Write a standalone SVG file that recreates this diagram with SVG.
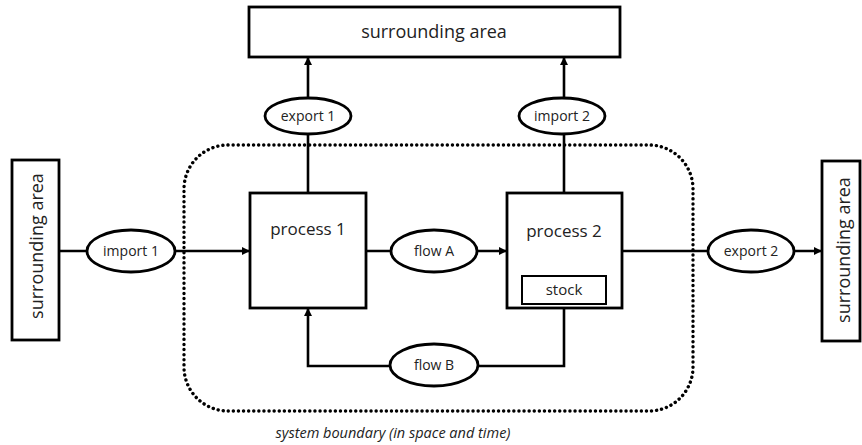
<svg xmlns="http://www.w3.org/2000/svg" width="862" height="445" viewBox="0 0 862 445">
  <defs>
    <marker id="arrow" viewBox="0 0 10 10" refX="10" refY="5" markerWidth="3.2" markerHeight="3.2" orient="auto" markerUnits="strokeWidth">
      <path d="M0,0 L10,5 L0,10 z" fill="#000"/>
    </marker>
    <style>
      .box { fill: #fff; stroke: #000; stroke-width: 2.8; }
      .oval { fill: #fff; stroke: #000; stroke-width: 2.8; }
      .link { fill: none; stroke: #000; stroke-width: 2.6; }
      .boundary { fill: none; stroke: #000; stroke-width: 3.4; stroke-dasharray: 0.1 5; stroke-linecap: round; }
      .lbl { font-family: "Open Sans", "Noto Sans", sans-serif; font-size: 14px; fill: #222; text-anchor: middle; dominant-baseline: central; }
      .big { font-size: 17px; }
      .area { font-size: 18px; }
      .cap { font-family: "Open Sans", "Noto Sans", sans-serif; font-size: 14.5px; font-style: italic; fill: #222; text-anchor: middle; }
    </style>
  </defs>
  <rect width="862" height="445" fill="#fff"/>

  <!-- system boundary -->
  <g id="boundary">
    <rect class="boundary" x="184" y="145" width="509" height="266" rx="44" ry="44"/>
    <text class="cap" x="393" y="438">system boundary (in space and time)</text>
  </g>

  <!-- connectors -->
  <g id="connectors">
    <path class="link" d="M59,251 L250,251" marker-end="url(#arrow)"/>
    <path class="link" d="M366,251 L507,251" marker-end="url(#arrow)"/>
    <path class="link" d="M622,251 L822,251" marker-end="url(#arrow)"/>
    <path class="link" d="M308,193 L308,57" marker-end="url(#arrow)"/>
    <path class="link" d="M564,193 L564,57" marker-end="url(#arrow)"/>
    <path class="link" d="M564,308 L564,366 L308,366 L308,308" marker-end="url(#arrow)"/>
  </g>

  <!-- surrounding areas -->
  <g id="area-top">
    <rect class="box" x="249" y="7" width="371" height="50"/>
    <text class="lbl area" x="434" y="31">surrounding area</text>
  </g>
  <g id="area-left">
    <rect class="box" x="12" y="160" width="47" height="180"/>
    <text class="lbl area" transform="translate(36,246) rotate(-90)">surrounding area</text>
  </g>
  <g id="area-right">
    <rect class="box" x="822" y="161" width="38" height="180"/>
    <text class="lbl area" transform="translate(843,250) rotate(-90)">surrounding area</text>
  </g>

  <!-- processes -->
  <g id="process1">
    <rect class="box" x="250" y="193" width="116" height="115"/>
    <text class="lbl big" x="308" y="228">process 1</text>
  </g>
  <g id="process2">
    <rect class="box" x="507" y="193" width="115" height="115"/>
    <text class="lbl big" x="564" y="230">process 2</text>
    <rect class="box" x="522" y="276" width="84" height="28" style="stroke-width:2"/>
    <text class="lbl" x="564" y="289" style="font-size:15px">stock</text>
  </g>

  <!-- flows -->
  <g id="import1">
    <ellipse class="oval" cx="131" cy="251" rx="44" ry="21"/>
    <text class="lbl" x="131" y="250">import 1</text>
  </g>
  <g id="export1">
    <ellipse class="oval" cx="308" cy="116" rx="43" ry="18"/>
    <text class="lbl" x="308" y="115">export 1</text>
  </g>
  <g id="import2">
    <ellipse class="oval" cx="562" cy="116" rx="43" ry="18"/>
    <text class="lbl" x="562" y="115">import 2</text>
  </g>
  <g id="flowA">
    <ellipse class="oval" cx="434" cy="251" rx="43" ry="21"/>
    <text class="lbl" x="434" y="250">flow A</text>
  </g>
  <g id="flowB">
    <ellipse class="oval" cx="434" cy="365" rx="44" ry="21"/>
    <text class="lbl" x="434" y="364">flow B</text>
  </g>
  <g id="export2">
    <ellipse class="oval" cx="751" cy="251" rx="43" ry="21"/>
    <text class="lbl" x="751" y="250">export 2</text>
  </g>
</svg>
